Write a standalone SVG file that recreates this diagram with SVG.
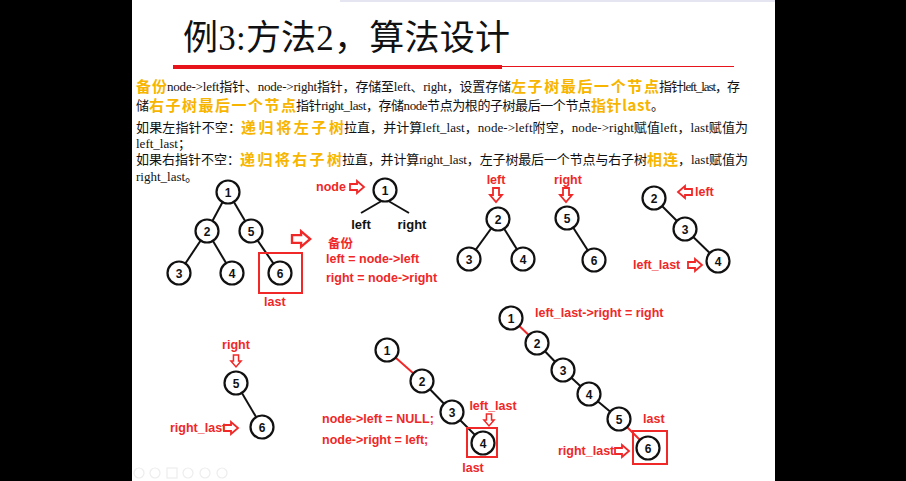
<svg xmlns="http://www.w3.org/2000/svg" xmlns:xlink="http://www.w3.org/1999/xlink" width="906" height="481" viewBox="0 0 906 481">
<style>
.blk{font-family:"Liberation Serif","Noto Sans CJK SC",serif;font-size:13px;fill:#111}
.org{font-family:"Noto Sans CJK SC",sans-serif;font-size:15px;font-weight:700;fill:#F7B500}
.lab{font-family:"Liberation Sans","Noto Sans CJK SC",sans-serif;font-size:12.5px;font-weight:700;fill:#F02828}
.bl{font-family:"Liberation Sans",sans-serif;font-size:13px;font-weight:700;fill:#111}
.nd circle{fill:#fff;stroke:#111;stroke-width:2.2}
.nd text{font-family:"Liberation Sans",sans-serif;font-size:12px;font-weight:700;fill:#111;text-anchor:middle}
.e{stroke:#111;stroke-width:2}
.er{stroke:#F02828;stroke-width:2}
.box{fill:none;stroke:#F02828;stroke-width:2}
.ar{fill:#fff;stroke:#F02828;stroke-width:1.8;stroke-linejoin:miter}
.tb{fill:none;stroke:#ededed;stroke-width:1.2}
</style>
<defs>
<path id="harrow" class="ar" d="M0,-3 H7 V-6 L14,0 L7,6 V3 H0 Z"/>
</defs>
<rect x="0" y="0" width="906" height="481" fill="#fff"/>
<rect x="0" y="0" width="132" height="481" fill="#000"/>
<rect x="775" y="0" width="131" height="481" fill="#000"/>
<line x1="340" y1="1" x2="775" y2="1" stroke="#dcdcec" stroke-width="1.5"/>

<g id="title">
<text x="183" y="50" font-family="Liberation Serif,'Noto Sans CJK SC',serif" font-size="35" fill="#111" textLength="327">例3:方法2，算法设计</text>
<rect x="173" y="65" width="329" height="4" fill="#E8141B"/>
<line x1="502" y1="66.5" x2="734" y2="66.5" stroke="#E8141B" stroke-width="1"/>
</g>

<g id="description">
<text class="org" x="136" y="92" textLength="31">备份</text>
<text class="blk" x="167" y="91" textLength="344">node-&gt;left指针、node-&gt;right指针，存储至left、right，设置存储</text>
<text class="org" x="511" y="92" textLength="148">左子树最后一个节点</text>
<text class="blk" x="659" y="91" textLength="81">指针left_last，存</text>

<text class="blk" x="136" y="110">储</text>
<text class="org" x="149" y="111" textLength="147">右子树最后一个节点</text>
<text class="blk" x="296" y="110" textLength="295">指针right_last，存储node节点为根的子树最后一个节点</text>
<text class="org" x="591" y="111" textLength="60">指针last</text>
<text class="blk" x="651" y="110">。</text>

<text class="blk" x="136" y="132" textLength="105">如果左指针不空：</text>
<text class="org" x="241" y="133" textLength="103">递归将左子树</text>
<text class="blk" x="344" y="132" textLength="404">拉直，并计算left_last，node-&gt;left附空，node-&gt;right赋值left，last赋值为</text>
<text class="blk" x="136" y="148">left_last；</text>

<text class="blk" x="136" y="164" textLength="104">如果右指针不空：</text>
<text class="org" x="240" y="165" textLength="102">递归将右子树</text>
<text class="blk" x="342" y="164" textLength="305">拉直，并计算right_last，左子树最后一个节点与右子树</text>
<text class="org" x="647" y="165" textLength="31">相连</text>
<text class="blk" x="678" y="164" textLength="70">，last赋值为</text>
<text class="blk" x="136" y="181">right_last。</text>
</g>

<g id="connectors">
<line class="e" x1="228" y1="192" x2="207" y2="231"/>
<line class="e" x1="228" y1="192" x2="251" y2="231"/>
<line class="e" x1="207" y1="231" x2="179" y2="273"/>
<line class="e" x1="207" y1="231" x2="232" y2="273"/>
<line class="e" x1="251" y1="231" x2="280" y2="273"/>

<line class="e" x1="385" y1="199" x2="361" y2="213"/>
<line class="e" x1="385" y1="199" x2="409" y2="213"/>

<line class="e" x1="498" y1="219" x2="469" y2="259"/>
<line class="e" x1="498" y1="219" x2="523" y2="259"/>
<line class="e" x1="567" y1="218" x2="594" y2="260"/>
<line class="e" x1="654" y1="198" x2="685" y2="229"/>
<line class="e" x1="685" y1="229" x2="718" y2="261"/>

<line class="e" x1="236" y1="383" x2="262" y2="427"/>

<line class="er" x1="387" y1="350" x2="422" y2="381"/>
<line class="e" x1="422" y1="381" x2="452" y2="412"/>
<line class="e" x1="452" y1="412" x2="483" y2="443"/>

<line class="er" x1="511" y1="318" x2="537" y2="343"/>
<line class="e" x1="537" y1="343" x2="563" y2="370"/>
<line class="e" x1="563" y1="370" x2="589" y2="394"/>
<line class="e" x1="589" y1="394" x2="619" y2="419"/>
<line class="er" x1="619" y1="419" x2="648" y2="448"/>
</g>

<g id="tree1">
<g class="nd" id="t1n1"><circle cx="228" cy="192" r="11.5"/><text x="228" y="196.5">1</text></g>
<g class="nd" id="t1n2"><circle cx="207" cy="231" r="11.5"/><text x="207" y="235.5">2</text></g>
<g class="nd" id="t1n5"><circle cx="251" cy="231" r="11.5"/><text x="251" y="235.5">5</text></g>
<g class="nd" id="t1n3"><circle cx="179" cy="273" r="11.5"/><text x="179" y="277.5">3</text></g>
<g class="nd" id="t1n4"><circle cx="232" cy="273" r="11.5"/><text x="232" y="277.5">4</text></g>
<g class="nd" id="t1n6"><circle cx="280" cy="273" r="11.5"/><text x="280" y="277.5">6</text></g>
<rect class="box" x="259" y="253" width="43" height="40"/>
<text class="lab" x="264" y="306">last</text>
</g>

<use xlink:href="#harrow" transform="translate(292,239) scale(1.3)"/>

<g id="backup">
<text class="lab" x="316" y="191">node</text>
<use xlink:href="#harrow" x="350" y="187"/>
<g class="nd" id="t2n1"><circle cx="385" cy="190" r="11.5"/><text x="385" y="194.5">1</text></g>
<text class="bl" x="361" y="229" text-anchor="middle">left</text>
<text class="bl" x="412" y="229" text-anchor="middle">right</text>
<text class="lab" x="328" y="248" font-size="11px">备份</text>
<text class="lab" x="326" y="263">left = node-&gt;left</text>
<text class="lab" x="326" y="282">right = node-&gt;right</text>
</g>

<g id="tree-left">
<text class="lab" x="496" y="184" text-anchor="middle">left</text>
<use xlink:href="#harrow" transform="translate(496,188) rotate(90)"/>
<g class="nd"><circle cx="498" cy="219" r="11.5"/><text x="498" y="223.5">2</text></g>
<g class="nd"><circle cx="469" cy="259" r="11.5"/><text x="469" y="263.5">3</text></g>
<g class="nd"><circle cx="523" cy="259" r="11.5"/><text x="523" y="263.5">4</text></g>
</g>

<g id="tree-right">
<text class="lab" x="568" y="184" text-anchor="middle">right</text>
<use xlink:href="#harrow" transform="translate(566,188) rotate(90)"/>
<g class="nd"><circle cx="567" cy="218" r="11.5"/><text x="567" y="222.5">5</text></g>
<g class="nd"><circle cx="594" cy="260" r="11.5"/><text x="594" y="264.5">6</text></g>
</g>

<g id="tree-left-flat">
<g class="nd"><circle cx="654" cy="198" r="11.5"/><text x="654" y="202.5">2</text></g>
<use xlink:href="#harrow" transform="translate(692,192) rotate(180)"/>
<text class="lab" x="695" y="196">left</text>
<g class="nd"><circle cx="685" cy="229" r="11.5"/><text x="685" y="233.5">3</text></g>
<g class="nd"><circle cx="718" cy="261" r="11.5"/><text x="718" y="265.5">4</text></g>
<text class="lab" x="633" y="269">left_last</text>
<use xlink:href="#harrow" x="688" y="265"/>
</g>

<g id="tree-right-flat">
<text class="lab" x="236" y="349" text-anchor="middle">right</text>
<use xlink:href="#harrow" transform="translate(236,355) rotate(90) scale(0.85)"/>
<g class="nd"><circle cx="236" cy="383" r="11.5"/><text x="236" y="387.5">5</text></g>
<g class="nd"><circle cx="262" cy="427" r="11.5"/><text x="262" y="431.5">6</text></g>
<text class="lab" x="170" y="432">right_last</text>
<use xlink:href="#harrow" x="224" y="428"/>
</g>

<g id="step-left">
<g class="nd"><circle cx="387" cy="350" r="11.5"/><text x="387" y="354.5">1</text></g>
<g class="nd"><circle cx="422" cy="381" r="11.5"/><text x="422" y="385.5">2</text></g>
<g class="nd"><circle cx="452" cy="412" r="11.5"/><text x="452" y="416.5">3</text></g>
<g class="nd"><circle cx="483" cy="443" r="11.5"/><text x="483" y="447.5">4</text></g>
<rect class="box" x="467" y="428" width="30" height="29"/>
<text class="lab" x="493" y="410" text-anchor="middle">left_last</text>
<use xlink:href="#harrow" transform="translate(489,414) rotate(90) scale(0.85)"/>
<text class="lab" x="473" y="472" text-anchor="middle">last</text>
<text class="lab" x="322" y="423">node-&gt;left = NULL;</text>
<text class="lab" x="322" y="444">node-&gt;right = left;</text>
</g>

<g id="step-right">
<g class="nd"><circle cx="511" cy="318" r="11.5"/><text x="511" y="322.5">1</text></g>
<g class="nd"><circle cx="537" cy="343" r="11.5"/><text x="537" y="347.5">2</text></g>
<g class="nd"><circle cx="563" cy="370" r="11.5"/><text x="563" y="374.5">3</text></g>
<g class="nd"><circle cx="589" cy="394" r="11.5"/><text x="589" y="398.5">4</text></g>
<g class="nd"><circle cx="619" cy="419" r="11.5"/><text x="619" y="423.5">5</text></g>
<g class="nd"><circle cx="648" cy="448" r="11.5"/><text x="648" y="452.5">6</text></g>
<rect class="box" x="633" y="431" width="34" height="33"/>
<text class="lab" x="535" y="317">left_last-&gt;right = right</text>
<text class="lab" x="643" y="423">last</text>
<text class="lab" x="558" y="455">right_last</text>
<use xlink:href="#harrow" x="615" y="451"/>
</g>

<g id="toolbar">
<circle class="tb" cx="139" cy="473" r="5"/>
<circle class="tb" cx="155" cy="473" r="5"/>
<rect class="tb" x="167" y="468" width="10" height="10"/>
<circle class="tb" cx="188" cy="473" r="5"/>
<circle class="tb" cx="205" cy="473" r="5"/>
<circle class="tb" cx="222" cy="473" r="5"/>
</g>
</svg>
